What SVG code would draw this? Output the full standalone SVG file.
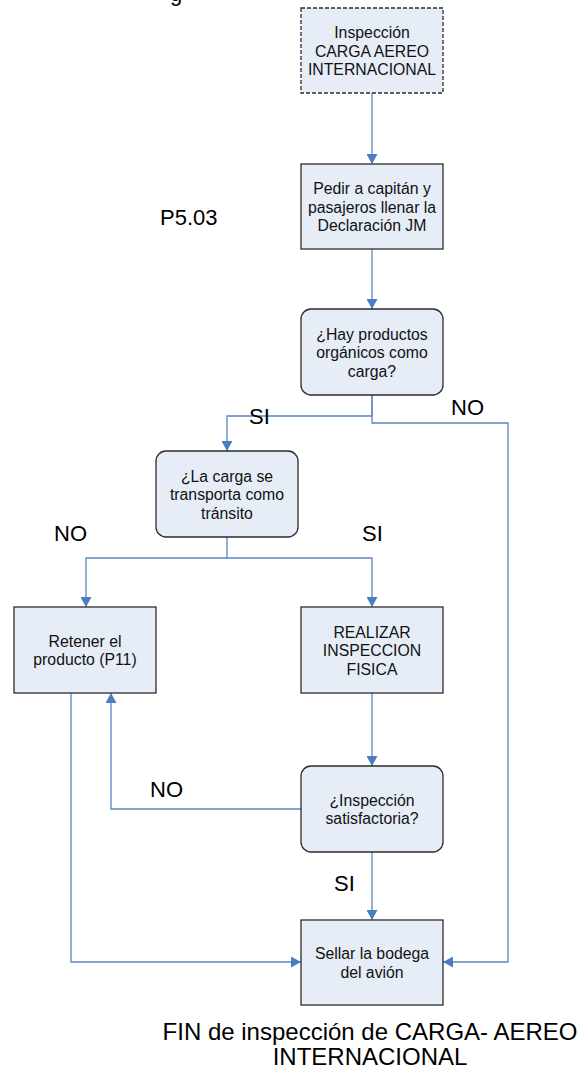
<svg xmlns="http://www.w3.org/2000/svg" width="581" height="1070" viewBox="0 0 581 1070">
<style>
.node{fill:#E7EDF7;stroke:#2b2b2b;stroke-width:1.3}
.dash{stroke-dasharray:4 2}
.t{font-family:"Liberation Sans",Arial,sans-serif;font-size:15.8px;fill:#111;text-anchor:middle}
.lbl{font-family:"Liberation Sans",Arial,sans-serif;font-size:22px;fill:#000}
.big{font-family:"Liberation Sans",Arial,sans-serif;font-size:24px;fill:#000;text-anchor:middle}
.c{fill:none;stroke:#5B87C2;stroke-width:1.3}
</style>
<defs>
<marker id="ah" markerUnits="userSpaceOnUse" markerWidth="11" markerHeight="11" refX="10" refY="5.5" orient="auto">
<path d="M0,0 L10,5.5 L0,11 z" fill="#4A7EC0"/>
</marker>
</defs>
<text class="lbl" x="170" y="1" font-size="26">g</text>
<g id="connectors">
<path class="c" d="M372,93 V164" marker-end="url(#ah)"/>
<path class="c" d="M372,249 V309" marker-end="url(#ah)"/>
<path class="c" d="M372,395 V416 H227 V451" marker-end="url(#ah)"/>
<path class="c" d="M372,395 V423 H508 V962 H443" marker-end="url(#ah)"/>
<path class="c" d="M227,537 V558 H86 V607" marker-end="url(#ah)"/>
<path class="c" d="M227,558 H372 V607" marker-end="url(#ah)"/>
<path class="c" d="M372,693 V766" marker-end="url(#ah)"/>
<path class="c" d="M301,809 H111 V693" marker-end="url(#ah)"/>
<path class="c" d="M71,693 V962 H301" marker-end="url(#ah)"/>
<path class="c" d="M372,852 V920" marker-end="url(#ah)"/>
</g>
<g id="n1">
<rect class="node dash" x="301" y="8" width="142" height="85"/>
<text class="t" x="372" y="38">Inspección</text>
<text class="t" x="372" y="56.5">CARGA AEREO</text>
<text class="t" x="372" y="75">INTERNACIONAL</text>
</g>
<g id="n2">
<rect class="node" x="301" y="164" width="142" height="85"/>
<text class="t" x="372" y="194">Pedir a capitán y</text>
<text class="t" x="372" y="212.5">pasajeros llenar la</text>
<text class="t" x="372" y="231">Declaración JM</text>
</g>
<g id="n3">
<rect class="node" x="301" y="309" width="142" height="86" rx="10"/>
<text class="t" x="372" y="339.5">¿Hay productos</text>
<text class="t" x="372" y="358">orgánicos como</text>
<text class="t" x="372" y="376.5">carga?</text>
</g>
<g id="n4">
<rect class="node" x="156" y="451" width="142" height="86" rx="10"/>
<text class="t" x="227" y="481.5">¿La carga se</text>
<text class="t" x="227" y="500">transporta como</text>
<text class="t" x="227" y="518.5">tránsito</text>
</g>
<g id="n5">
<rect class="node" x="14" y="607" width="142" height="86"/>
<text class="t" x="85" y="646.5">Retener el</text>
<text class="t" x="85" y="665">producto (P11)</text>
</g>
<g id="n6">
<rect class="node" x="301" y="607" width="142" height="86"/>
<text class="t" x="372" y="637.5">REALIZAR</text>
<text class="t" x="372" y="656">INSPECCION</text>
<text class="t" x="372" y="674.5">FISICA</text>
</g>
<g id="n7">
<rect class="node" x="301" y="766" width="142" height="86" rx="10"/>
<text class="t" x="372" y="805.5">¿Inspección</text>
<text class="t" x="372" y="824">satisfactoria?</text>
</g>
<g id="n8">
<rect class="node" x="301" y="920" width="142" height="85"/>
<text class="t" x="372" y="959">Sellar la bodega</text>
<text class="t" x="372" y="977.5">del avión</text>
</g>
<g id="labels">
<text class="lbl" x="160" y="225" font-size="20">P5.03</text>
<text class="lbl" x="451" y="415">NO</text>
<text class="lbl" x="249" y="424">SI</text>
<text class="lbl" x="54" y="541">NO</text>
<text class="lbl" x="362" y="541">SI</text>
<text class="lbl" x="150" y="797">NO</text>
<text class="lbl" x="334" y="891">SI</text>
<text class="big" x="370" y="1040">FIN de inspección de CARGA- AEREO</text>
<text class="big" x="370" y="1065">INTERNACIONAL</text>
</g>
</svg>
